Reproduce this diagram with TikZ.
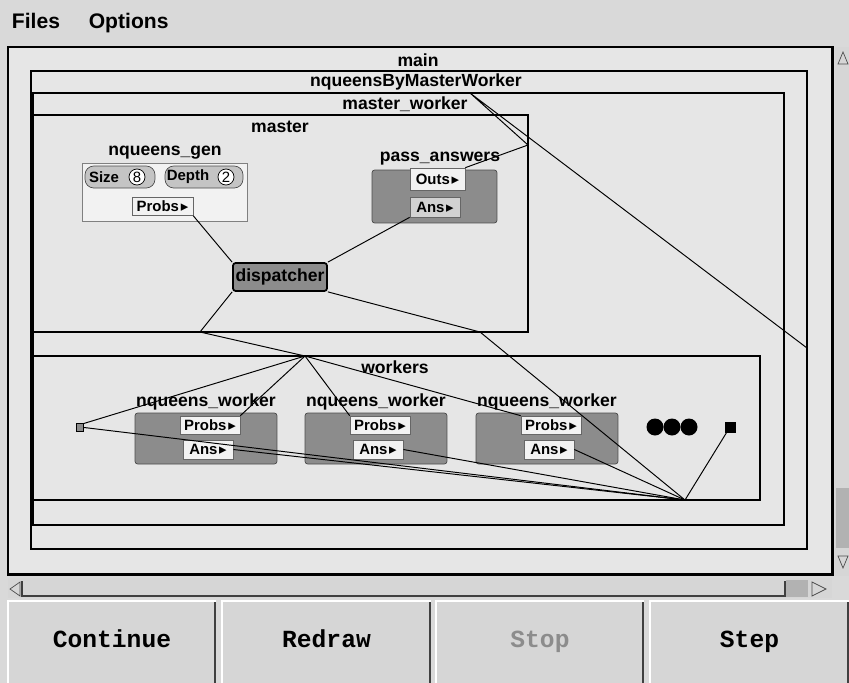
\documentclass[tikz,border=0pt]{standalone}
\usepackage{fontspec}
\setmainfont{Liberation Sans}
\newfontfamily\btnfont{Liberation Mono}
\newfontfamily\symfont{DejaVu Sans}
\usetikzlibrary{positioning}
\definecolor{framegray}{HTML}{D9D9D9}
\definecolor{canvasgray}{HTML}{E6E6E6}
\definecolor{unitgray}{HTML}{8C8C8C}
\definecolor{portwhite}{HTML}{F2F2F2}
\definecolor{portgray}{HTML}{D2D2D2}
\definecolor{pillgray}{HTML}{C4C4C4}
\definecolor{btngray}{HTML}{D6D6D6}
\newcommand{\portarrow}{{\symfont\kern1pt\char"25B8}}
\tikzset{lbl/.style={font=\bfseries\fontsize{10}{12}\selectfont, inner sep=0pt},
         menu/.style={font=\bfseries\fontsize{12}{14}\selectfont, inner sep=0pt, text height=0.72em, text depth=0.22em},
         unit/.style={fill=unitgray, draw=black!70, rounded corners=1.5pt, inner sep=0pt},
         port/.style={fill=portwhite, draw=black!60, font=\bfseries\fontsize{8.5}{10}\selectfont, inner sep=0pt, minimum height=0.36cm},
         pill/.style={fill=pillgray, draw=black!70, rounded corners=5pt, minimum height=0.44cm, inner sep=0pt},
         tag/.style={font=\bfseries\fontsize{8.5}{10}\selectfont, inner sep=0pt},
         knob/.style={circle, fill=white, draw=black, minimum size=0.32cm, inner sep=0pt, font=\fontsize{8.5}{10}\selectfont},
         dot/.style={circle, fill=black, minimum size=0.34cm, inner sep=0pt},
         sq/.style={rectangle, inner sep=0pt},
         wire/.style={black, line width=0.55pt},
         btnlbl/.style={font=\btnfont\bfseries\fontsize{14}{16}\selectfont, inner sep=0pt, text height=0.62em, text depth=0.2em},
        }

\begin{document}
\begin{tikzpicture}[x=0.02cm,y=-0.02cm]
        \useasboundingbox (0,0) rectangle (849,683);
        \fill[framegray] (0,0) rectangle (849,683);

        \node[menu](files)at(36,24){Files};
        \node[menu, right=16pt of files](options){Options};

        % canvas and scrollbars
        \draw[line width=1.7pt, fill=canvasgray] (8,47) rectangle (832,574);
        \fill[btngray] (835,47) rectangle (849,576);
        \fill[black!30] (836,488) rectangle (849,548);
        \draw[black!70] (838,64)--(843,52)--(848,64)--cycle;
        \draw[black!70] (838,556)--(843,568)--(848,556)--cycle;
        \fill[btngray] (8,578) rectangle (832,598);
        \draw[black!75, line width=0.9pt] (22,581)--(22,596)--(785,596)--(785,581);
        \fill[black!30] (786,580) rectangle (808,597);
        \draw[black!70] (20,582)--(10,589)--(20,596)--cycle;
        \draw[black!70] (812,582)--(826,589)--(812,596)--cycle;

        % nested groups
        \draw[line width=1.1pt] (31,71) rectangle (807,549);
        \draw[line width=0.8pt] (33,93) rectangle (784,525);
        \draw[line width=0.6pt] (33,115) rectangle (528,332);
        \draw[line width=0.6pt] (33,356) rectangle (760,500);
        \node[lbl](lmain)at(418,60){main};
        \node[lbl](lnq)at(416,82){nqueensByMasterWorker};
        \node[lbl](lmw)at(405,104){master\_worker};
        \node[lbl](lmaster)at(280,127){master};
        \node[lbl](lworkers)at(395,367){workers};

        % master
        \node[lbl](lgen)at(165,153){nqueens\_gen};
        \node[fill=portwhite, draw=black!50, minimum width=3.3cm, minimum height=1.16cm](gen)at(164.5,192){};
        \node[pill, minimum width=1.4cm](size)at(120,177){};
        \node[tag](sizelbl)at(104,177){Size};
        \node[knob](sizeval)at(137,177){8};
        \node[pill, minimum width=1.56cm](depth)at(204,177){};
        \node[tag](depthlbl)at(188,177){Depth};
        \node[knob](depthval)at(226,177){2};
        \node[port, minimum width=1.22cm](genprobs)at(162.5,206.5){Probs\portarrow};

        \node[lbl](lpass)at(440,159){pass\_answers};
        \node[unit, minimum width=2.5cm, minimum height=1.06cm](pass)at(434.5,196.5){};
        \node[port, minimum width=1.1cm, minimum height=0.44cm](outs)at(437.5,179){Outs\portarrow};
        \node[port, fill=portgray, minimum width=1.0cm, minimum height=0.4cm](passans)at(435,207){Ans\portarrow};

        \node[unit, draw=black, line width=1pt, minimum width=1.88cm, minimum height=0.56cm,
              font=\bfseries\fontsize{10}{12}\selectfont](disp)at(280,277){dispatcher};

        % workers
        \foreach \i/\x in {1/206,2/376,3/547}{
            \node[lbl](lw\i)at(\x,402){nqueens\_worker};
            \node[unit, minimum width=2.84cm, minimum height=1.02cm](w\i)at(\x,438.5){};
            \node[port, minimum width=1.2cm](wp\i)at(\x+4,425){Probs\portarrow};
            \node[port, minimum width=1.0cm, minimum height=0.38cm](wa\i)at(\x+2,449.5){Ans\portarrow};
        }
        \foreach \x [count=\k] in {655,672,689}
            \node[dot](dot\k)at(\x,427){};
        \node[sq, fill=black, minimum size=0.22cm](sink)at(730,427){};
        \node[sq, fill=black!45, draw=black, minimum size=0.15cm](src)at(80,427.5){};

        \coordinate(mdown)at(200,332);
        \coordinate(win)at(305,356);
        \coordinate(mright)at(480,332);
        \coordinate(wout)at(685,500);
        \coordinate(mup)at(528,145);
        \coordinate(nq)at(470,93);
        \coordinate(mainport)at(807,348);

        \draw[wire](genprobs.south east)--(disp.north west);
        \draw[wire](disp.north east)--(passans.south west);
        \draw[wire](disp.south west)--(mdown)--(win);
        \draw[wire](win)--(src.north east);
        \draw[wire](win)--(wp1.north east);
        \draw[wire](win)--(wp2.north west);
        \draw[wire](win)--(wp3.north west);
        \draw[wire](disp.south east)--(mright)--(wout);
        \draw[wire](src.east)--(wout);
        \foreach \i in {1,2,3}
            \draw[wire](wa\i.east)--(wout);
        \draw[wire](sink)--(wout);
        \draw[wire](outs.north east)--(mup)--(nq)--(mainport);

        % buttons
        \foreach \a/\b/\t/\c in {8/216/Continue/black, 222/431/Redraw/black, 436/644/Stop/black!45, 650/849/Step/black}{
            \fill[btngray] (\a,601) rectangle (\b,683);
            \draw[white, line width=1pt] (\a,683)--(\a,601)--(\b,601);
            \draw[black!75, line width=1.2pt] (\b-1,602)--(\b-1,683);
            \node[btnlbl, text=\c](btn\t)at({(\a+\b)/2},644){\t};
        }
\end{tikzpicture}
\end{document}
